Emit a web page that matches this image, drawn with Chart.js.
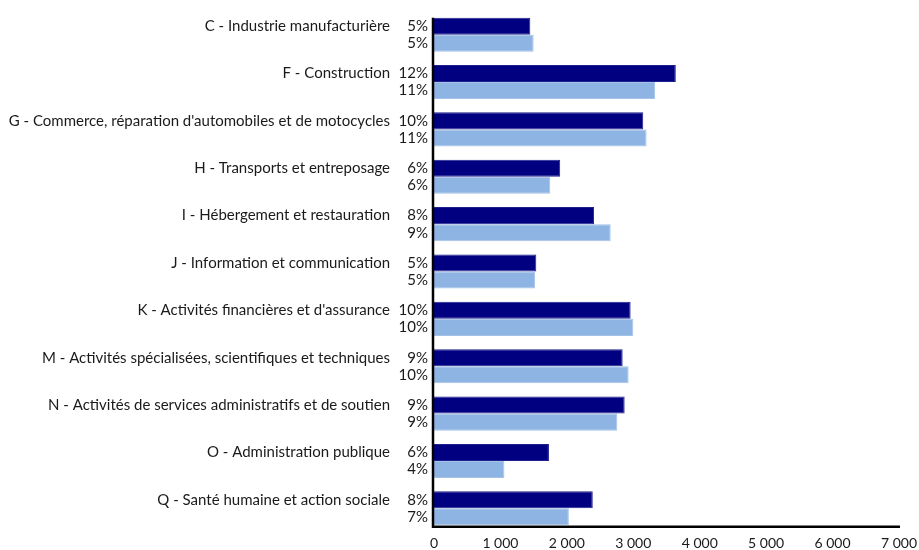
<!DOCTYPE html>
<html>
<head>
<meta charset="utf-8">
<script src="https://cdn.jsdelivr.net/npm/chart.js@4"></script>
<style>
  html, body { margin: 0; padding: 0; background: #fff; }
  #wrap { width: 919px; height: 550px; }
</style>
</head>
<body>
<div id="wrap"><canvas id="chart"></canvas></div>
<script>
  const categories = [
    'C - Industrie manufacturière',
    'F - Construction',
    "G - Commerce, réparation d'automobiles et de motocycles",
    'H - Transports et entreposage',
    'I - Hébergement et restauration',
    'J - Information et communication',
    "K - Activités financières et d'assurance",
    'M - Activités spécialisées, scientifiques et techniques',
    'N - Activités de services administratifs et de soutien',
    'O - Administration publique',
    'Q - Santé humaine et action sociale'
  ];
  const darkValues = [1450, 3640, 3150, 1900, 2410, 1540, 2960, 2840, 2870, 1730, 2390];
  const lightValues = [1500, 3330, 3200, 1750, 2660, 1520, 3000, 2930, 2760, 1060, 2030];
  const darkPct = ['5%', '12%', '10%', '6%', '8%', '5%', '10%', '9%', '9%', '6%', '8%'];
  const lightPct = ['5%', '11%', '11%', '6%', '9%', '5%', '10%', '10%', '9%', '4%', '7%'];
  const xTicks = [0, 1000, 2000, 3000, 4000, 5000, 6000, 7000];

  const FONT = 'Lato, "Open Sans", sans-serif';

  // category names, percentages and the two axis lines (axes hug the bars, as in the original)
  const sideLabels = {
    id: 'sideLabels',
    afterDatasetsDraw(chart) {
      const ctx = chart.ctx;
      const area = chart.chartArea;
      const left = area.left;
      const m0 = chart.getDatasetMeta(0);
      const m1 = chart.getDatasetMeta(1);
      const first = m0.data[0];
      const last = m1.data[m1.data.length - 1];
      const top = first.y - first.height / 2;
      const axisY = last.y + last.height / 2 + 1.5;

      ctx.save();
      ctx.strokeStyle = '#000';
      ctx.lineWidth = 2.5;
      ctx.beginPath();
      ctx.moveTo(left - 1, top);
      ctx.lineTo(left - 1, axisY);
      ctx.lineTo(area.right + 1, axisY);
      ctx.stroke();

      ctx.font = '15px ' + FONT;
      ctx.fillStyle = '#1a1a1a';
      ctx.textAlign = 'right';
      ctx.textBaseline = 'middle';
      categories.forEach((c, i) => {
        const y0 = m0.data[i].y;
        const y1 = m1.data[i].y;
        ctx.fillText(darkPct[i], left - 6, y0);
        ctx.fillText(lightPct[i], left - 6, y1);
        ctx.fillText(c, left - 44, y0);
      });
      ctx.restore();
    }
  };

  new Chart(document.getElementById('chart'), {
    type: 'bar',
    data: {
      labels: categories,
      datasets: [
        { label: 'Série 1', data: darkValues, backgroundColor: '#000080', borderColor: '#1f1f8f', borderWidth: 1, categoryPercentage: 0.72, barPercentage: 1 },
        { label: 'Série 2', data: lightValues, backgroundColor: '#8EB4E3', borderColor: '#a4c2e8', borderWidth: 1, categoryPercentage: 0.72, barPercentage: 1 }
      ]
    },
    options: {
      indexAxis: 'y',
      responsive: true,
      maintainAspectRatio: false,
      animation: false,
      layout: { padding: { left: 434, top: 11, right: 0, bottom: 0 } },
      plugins: {
        legend: { display: false },
        tooltip: { enabled: false }
      },
      scales: {
        x: {
          min: 0,
          max: 7000,
          afterBuildTicks: axis => { axis.ticks = xTicks.map(v => ({ value: v })); },
          afterFit: axis => { axis.paddingRight = 20; axis.height = 18; },
          grid: { display: false, drawTicks: false },
          border: { display: false },
          ticks: {
            padding: 3,
            color: '#1a1a1a',
            font: { size: 14, family: FONT },
            callback: v => String(v).replace(/\B(?=(\d{3})+(?!\d))/g, ' ')
          }
        },
        y: {
          grid: { display: false, drawTicks: false },
          border: { display: false },
          ticks: { display: false }
        }
      }
    },
    plugins: [sideLabels]
  });
</script>
</body>
</html>
